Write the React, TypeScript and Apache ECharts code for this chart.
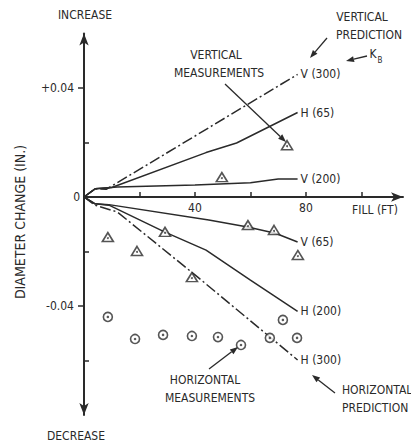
import React, { useEffect, useRef } from 'react';
import * as echarts from 'echarts';

const FONT = "'DejaVu Sans Condensed', 'Liberation Sans Narrow', 'DejaVu Sans', sans-serif";
const INK = '#2a2a2a';

// Axis ticks and labels
const xTicks = [20, 40, 60, 80, 100];
const xLabels = [40, 80];
const yMinorTicks = [0.02, -0.02, -0.06];
const yMajorTicks = [0.04, -0.04];
const yZeroLabel = [0];
const yLabels = [0.04, -0.04];

// Predictions: [fill (ft), diameter change (in.)]
const v300 = [[0, 0], [4, 0.003], [8, 0.0028], [77, 0.045]];
const h65 = [[0, 0], [4, 0.003], [10, 0.0035], [44, 0.0163], [55, 0.0198], [77, 0.031]];
const v200 = [[0, 0], [4, 0.003], [12, 0.0037], [40, 0.0044], [60, 0.0052], [70, 0.0066], [77, 0.0066]];
const v65 = [[0, 0], [4, -0.0025], [9, -0.0028], [45, -0.0084], [59, -0.011], [69, -0.0133], [77, -0.0165]];
const h200 = [[0, 0], [4, -0.0025], [9, -0.003], [29, -0.0128], [44, -0.0195], [60, -0.0305], [77, -0.042]];
const h300 = [[0, 0], [4, -0.003], [12, -0.0055], [41, -0.0294], [77, -0.0598]];

// Measurements
const verticalMeas = [
  [8.6, -0.0147], [19.1, -0.0198], [29.2, -0.0128], [38.9, -0.0294], [49.7, 0.0073],
  [59.1, -0.0103], [68.5, -0.0121], [77.1, -0.0213], [73.2, 0.019],
];
const horizontalMeas = [
  [8.6, -0.044], [18.4, -0.0521], [28.5, -0.0506], [38.9, -0.051], [48.3, -0.0514],
  [56.6, -0.0543], [67.0, -0.0517], [71.7, -0.0451], [76.8, -0.0517],
];

const solid = { color: INK, width: 1.5, type: 'solid' as const };
const dashDot = { color: INK, width: 1.5, type: [11, 3, 2, 3] };

function txt(text: string, x: number, y: number, opts: any = {}) {
  return {
    type: 'text',
    x,
    y,
    rotation: opts.rotation || 0,
    style: {
      text,
      fill: INK,
      fontSize: opts.size || 12,
      fontFamily: opts.family || FONT,
      align: opts.align || 'center',
      verticalAlign: 'middle',
      textAlign: opts.align || 'center',
      textVerticalAlign: 'middle',
    },
  };
}

function arrow(x1: number, y1: number, x2: number, y2: number, head = 8, w = 3) {
  const a = Math.atan2(y2 - y1, x2 - x1);
  const bx = x2 - head * Math.cos(a);
  const by = y2 - head * Math.sin(a);
  return [
    { type: 'line', shape: { x1, y1, x2: bx, y2: by }, style: { stroke: INK, lineWidth: 1.3 } },
    {
      type: 'polygon',
      shape: {
        points: [
          [x2, y2],
          [bx + w * Math.sin(a), by - w * Math.cos(a)],
          [bx - w * Math.sin(a), by + w * Math.cos(a)],
        ],
      },
      style: { fill: INK },
    },
  ];
}

function lineSeries(name: string, data: number[][], ls: any) {
  return {
    type: 'line',
    name,
    data,
    showSymbol: false,
    symbol: 'none',
    smooth: false,
    lineStyle: ls,
    endLabel: {
      show: true,
      formatter: name,
      distance: 3,
      color: INK,
      fontSize: 12,
      fontFamily: FONT,
    },
    z: 3,
  };
}

export default function App() {
  const ref = useRef<HTMLDivElement>(null);
  useEffect(() => {
    if (!ref.current) return;
    const chart = echarts.init(ref.current, null, { renderer: 'svg' });
    const labelStyle = { color: INK, fontSize: 12, fontFamily: FONT };
    const fmt = (v: number) =>
      Math.abs(v) < 1e-9 ? '0' : v > 0 ? '+' + v.toFixed(2) : '-' + Math.abs(v).toFixed(2);
    chart.setOption({
      animation: false,
      backgroundColor: '#fff',
      grid: { left: 84, right: 8, top: 33.5, bottom: 30, containLabel: false },
      xAxis: {
        type: 'value',
        min: 0,
        max: 115,
        interval: 20,
        position: 'bottom',
        offset: -218,
        axisLine: { show: true, onZero: false, symbol: ['none', 'arrow'], symbolSize: [7, 12], lineStyle: { color: INK, width: 2 } },
        axisTick: { show: true, inside: true, length: 5, customValues: xTicks, lineStyle: { color: INK, width: 1.5 } },
        axisLabel: { show: true, customValues: xLabels, margin: 5, ...labelStyle },
        splitLine: { show: false },
      },
      yAxis: [
        {
          type: 'value',
          min: -0.08,
          max: 0.06,
          interval: 0.02,
          position: 'left',
          axisLine: { show: true, onZero: false, symbol: ['arrow', 'arrow'], symbolSize: [7, 12], lineStyle: { color: INK, width: 2 } },
          axisTick: { show: true, inside: true, length: 5, customValues: yMinorTicks, lineStyle: { color: INK, width: 1.5 } },
          axisLabel: { show: true, customValues: yZeroLabel, margin: 4, formatter: fmt, ...labelStyle },
          splitLine: { show: false },
        },
        {
          type: 'value',
          min: -0.08,
          max: 0.06,
          interval: 0.02,
          position: 'left',
          offset: 0,
          axisLine: { show: false, onZero: false },
          axisTick: { show: true, inside: false, length: 6, customValues: yMajorTicks, lineStyle: { color: INK, width: 1.5 } },
          axisLabel: { show: true, customValues: yLabels, margin: 10, formatter: fmt, ...labelStyle },
          splitLine: { show: false },
        },
      ],
      series: [
        lineSeries('V (300)', v300, dashDot),
        lineSeries('H (65)', h65, solid),
        lineSeries('V (200)', v200, solid),
        lineSeries('V (65)', v65, solid),
        lineSeries('H (200)', h200, solid),
        lineSeries('H (300)', h300, dashDot),
        {
          type: 'scatter',
          name: 'Vertical measurements',
          data: verticalMeas,
          symbol: 'triangle',
          symbolSize: [11, 9],
          itemStyle: { color: '#fff', borderColor: INK, borderWidth: 1.6 },
          z: 4,
        },
        {
          type: 'scatter',
          name: 'Vertical measurements dot',
          data: verticalMeas,
          symbol: 'circle',
          symbolSize: 2,
          symbolOffset: [0, 1],
          itemStyle: { color: INK },
          z: 5,
        },
        {
          type: 'scatter',
          name: 'Horizontal measurements',
          data: horizontalMeas,
          symbol: 'circle',
          symbolSize: 9,
          itemStyle: { color: '#fff', borderColor: INK, borderWidth: 1.6 },
          z: 4,
        },
        {
          type: 'scatter',
          name: 'Horizontal measurements dot',
          data: horizontalMeas,
          symbol: 'circle',
          symbolSize: 2.5,
          itemStyle: { color: INK },
          z: 5,
        },
      ],
      graphic: [
        txt('INCREASE', 85, 15),
        txt('DECREASE', 76, 436),
        txt('DIAMETER CHANGE (IN.)', 20, 222, { rotation: Math.PI / 2, size: 14 }),
        txt('VERTICAL', 216, 55),
        txt('MEASUREMENTS', 219, 73),
        txt('VERTICAL', 362, 17),
        txt('PREDICTION', 369, 35),
        txt('K', 373, 54),
        txt('B', 380, 60, { size: 8 }),
        txt('HORIZONTAL', 205, 380),
        txt('MEASUREMENTS', 210, 398),
        txt('HORIZONTAL', 342, 390, { align: 'left' }),
        txt('PREDICTION', 342, 408, { align: 'left' }),
        txt('FILL (FT)', 375, 210),
        ...arrow(225, 84, 286, 142),
        ...arrow(327, 38, 310, 58),
        ...arrow(367, 56, 346, 61),
        ...arrow(209, 369, 238, 347),
        ...arrow(335, 393, 312, 375),
      ],
    });
    return () => chart.dispose();
  }, []);
  return (
    <div
      ref={ref}
      style={{ position: 'fixed', left: 0, top: 0, width: 411, height: 445, background: '#fff' }}
    />
  );
}
